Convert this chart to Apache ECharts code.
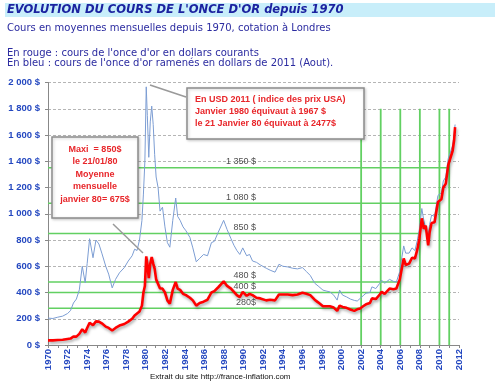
<!DOCTYPE html>
<html><head><meta charset="utf-8">
<script src="https://cdn.jsdelivr.net/npm/echarts@6/dist/echarts.min.js"></script>
<style>html,body{margin:0;padding:0;background:#fff}#c{width:500px;height:383px}</style>
</head><body><div id="c"></div>
<script>
// Fractional years (monthly-ish sampling)
const dates = [1970.0,1970.5,1971.0,1971.5,1972.0,1972.3,1972.6,1972.9,1973.2,1973.5,1973.8,1974.0,1974.25,1974.6,1974.9,1975.2,1975.5,1975.9,1976.2,1976.56,1976.9,1977.3,1977.8,1978.2,1978.6,1978.85,1979.1,1979.35,1979.6,1979.75,1979.9,1980.04,1980.15,1980.3,1980.45,1980.6,1980.75,1980.9,1981.05,1981.25,1981.45,1981.7,1981.95,1982.2,1982.45,1982.75,1983.05,1983.25,1983.5,1983.8,1984.1,1984.5,1984.8,1985.15,1985.5,1985.9,1986.3,1986.7,1987.0,1987.4,1987.95,1988.3,1988.7,1989.0,1989.3,1989.6,1989.9,1990.3,1990.6,1990.9,1991.3,1991.7,1992.3,1992.7,1993.2,1993.6,1994.0,1994.5,1995.0,1995.5,1996.0,1996.4,1996.8,1997.25,1997.6,1998.1,1998.5,1998.8,1999.2,1999.55,1999.8,2000.1,2000.5,2000.9,2001.3,2001.6,2001.9,2002.2,2002.5,2002.9,2003.1,2003.5,2003.9,2004.1,2004.4,2004.9,2005.3,2005.6,2005.95,2006.1,2006.35,2006.55,2006.9,2007.2,2007.5,2007.75,2007.95,2008.2,2008.4,2008.6,2008.85,2009.0,2009.2,2009.5,2009.85,2010.2,2010.4,2010.65,2010.9,2011.1,2011.35,2011.5,2011.6];
// Red: current dollars
const nominal = [35,35,38,40,46,49,65,64,85,120,95,130,170,150,180,178,165,140,130,110,130,148,160,178,200,225,240,255,300,400,450,675,620,510,620,670,620,580,500,490,430,430,400,340,315,420,480,430,420,390,380,360,340,300,320,330,345,400,410,440,485,450,430,405,380,365,405,375,390,380,360,355,340,345,340,385,385,385,380,385,398,390,380,345,325,295,295,295,285,260,300,290,283,270,260,272,278,295,310,320,355,350,385,405,390,430,425,430,500,560,660,610,620,665,660,730,810,965,885,910,760,860,930,935,1090,1110,1200,1230,1370,1360,1480,1560,1660];
// Blue: 2011 dollars (August)
const real2011 = [205,202,212,220,240,262,320,350,420,600,475,620,810,665,800,770,700,600,540,435,500,550,590,640,680,730,720,800,950,1150,1400,1967,1750,1430,1700,1820,1680,1450,1280,1200,1020,1050,900,780,745,950,1120,980,950,900,870,820,740,634,660,690,680,780,790,860,950,880,810,760,720,690,740,680,690,640,630,610,585,570,555,615,600,595,585,580,590,560,530,471,450,418,410,405,380,342,418,380,367,350,340,335,355,375,395,400,443,430,470,494,470,500,485,480,560,640,755,700,700,740,720,800,880,1040,950,960,810,920,990,980,1140,1160,1250,1280,1420,1410,1520,1600,1680];
// Reference levels (green lines)
const refLevels = [280, 400, 480, 850, 1080, 1350];
const refYears = [2002, 2004, 2006, 2008, 2010, 2011];
const refLabels = ['280$', '400 $', '480 $', '850 $', '1 080 $', '1 350 $'];
const refTop = 1800;
const refLabelYear = 1991.3;

const chart = echarts.init(document.getElementById('c'), null, {renderer: 'canvas'});
const GREEN = '#62d062';
const series = [];
refLevels.forEach((lv, i) => {
  series.push({type: 'line', data: [[1970, lv], [refYears[i], lv]], symbol: 'none', silent: true,
    lineStyle: {color: GREEN, width: 1.6}, z: 1});
  series.push({type: 'line', data: [[refYears[i], 0], [refYears[i], refTop]], symbol: 'none', silent: true,
    lineStyle: {color: GREEN, width: 1.8}, z: 1});
});
series.push({type: 'scatter', symbolSize: 1, itemStyle: {color: 'transparent'}, z: 5,
  data: refLevels.map((lv, i) => ({value: [refLabelYear, lv], label: {formatter: refLabels[i]}})),
  label: {show: true, position: 'left', distance: 0, offset: [0, -6], color: '#222',
    fontFamily: 'Liberation Sans', fontSize: 9}});
series.push({type: 'line', data: dates.map((d, i) => [d, real2011[i]]), symbol: 'none',
  lineStyle: {color: '#7c9dd3', width: 1}, z: 3});
series.push({type: 'line', data: dates.map((d, i) => [d, nominal[i]]), symbol: 'none',
  lineStyle: {color: '#ff0000', width: 2.6, shadowColor: 'rgba(0,0,0,0.35)', shadowBlur: 3, shadowOffsetY: 2, shadowOffsetX: 1}, z: 4});

const redTxt = {fill: '#e8262a', fontFamily: 'Liberation Sans', fontWeight: 'bold', fontSize: 9};
chart.setOption({
  animation: false,
  grid: {left: 48, right: 41, top: 82.5, bottom: 38},
  xAxis: {type: 'value', min: 1970, max: 2012, interval: 2,
    axisLine: {lineStyle: {color: '#888'}}, axisTick: {length: 3, lineStyle: {color: '#888'}},
    minorTick: {show: true, splitNumber: 2, length: 3, lineStyle: {color: '#888'}},
    splitLine: {show: false},
    axisLabel: {rotate: 90, color: '#2448c0', fontWeight: 'bold', fontFamily: 'Liberation Sans', fontSize: 9.5, margin: 4,
      formatter: v => String(v)}},
  yAxis: {type: 'value', min: 0, max: 2000, interval: 200,
    axisLine: {show: true, lineStyle: {color: '#888'}}, axisTick: {show: true, length: 3, lineStyle: {color: '#888'}},
    splitLine: {lineStyle: {color: '#b5b5b5', type: [3, 2]}},
    axisLabel: {color: '#2448c0', fontWeight: 'bold', fontFamily: 'Liberation Sans', fontSize: 9.5, margin: 8,
      formatter: v => (v >= 1000 ? Math.floor(v / 1000) + ' ' + String(v % 1000).padStart(3, '0') : String(v)) + ' $'}},
  series: series,
  graphic: [
    {type: 'rect', shape: {x: 5, y: 3, width: 490, height: 14}, style: {fill: '#c8eefa'}, silent: true},
    {type: 'text', x: 7, y: 10.5, style: {text: "EVOLUTION DU COURS DE L'ONCE D'OR depuis 1970", fill: '#1c23a0',
      font: 'italic bold 11.5px "DejaVu Sans"', verticalAlign: 'middle'}},
    {type: 'text', x: 7, y: 28, style: {text: 'Cours en moyennes mensuelles depuis 1970, cotation à Londres', fill: '#2b2ba0',
      font: '10px "DejaVu Sans"', verticalAlign: 'middle'}},
    {type: 'text', x: 7, y: 53, style: {text: "En rouge : cours de l'once d'or en dollars courants", fill: '#2b2ba0',
      font: '10px "DejaVu Sans"', verticalAlign: 'middle'}},
    {type: 'text', x: 7, y: 63.5, style: {text: "En bleu : cours de l'once d'or ramenés en dollars de 2011 (Aout).", fill: '#2b2ba0',
      font: '10px "DejaVu Sans"', verticalAlign: 'middle'}},
    // annotation 1
    {type: 'line', shape: {x1: 113, y1: 224, x2: 143, y2: 253}, style: {stroke: '#9a9a9a', lineWidth: 1.5}, z: 10},
    {type: 'rect', shape: {x: 52, y: 137, width: 86, height: 81}, style: {fill: '#fff', stroke: '#8c8c8c', lineWidth: 1.5,
      shadowColor: 'rgba(0,0,0,0.2)', shadowBlur: 3, shadowOffsetX: 1, shadowOffsetY: 1}, z: 10},
    {type: 'text', x: 95, y: 143, z: 11, style: Object.assign({text: 'Maxi  = 850$\nle 21/01/80\nMoyenne\nmensuelle\njanvier 80= 675$',
      align: 'center', verticalAlign: 'top', lineHeight: 12.5}, redTxt)},
    // annotation 2
    {type: 'line', shape: {x1: 150, y1: 85, x2: 186, y2: 97}, style: {stroke: '#9a9a9a', lineWidth: 1.5}, z: 10},
    {type: 'rect', shape: {x: 187, y: 88, width: 177, height: 51}, style: {fill: '#fff', stroke: '#8c8c8c', lineWidth: 1.5,
      shadowColor: 'rgba(0,0,0,0.2)', shadowBlur: 3, shadowOffsetX: 1, shadowOffsetY: 1}, z: 10},
    {type: 'text', x: 195, y: 93.5, z: 11, style: Object.assign({text: 'En USD 2011 ( indice des prix USA)\nJanvier 1980 équivaut à 1967 $\nle 21 Janvier 80 équivaut à 2477$',
      align: 'left', verticalAlign: 'top', lineHeight: 12}, redTxt)},
    {type: 'text', x: 150, y: 377, style: {text: 'Extrait du site http://france-inflation.com', fill: '#111',
      font: '8px "Liberation Sans"', verticalAlign: 'middle'}}
  ]
});
</script></body></html>
